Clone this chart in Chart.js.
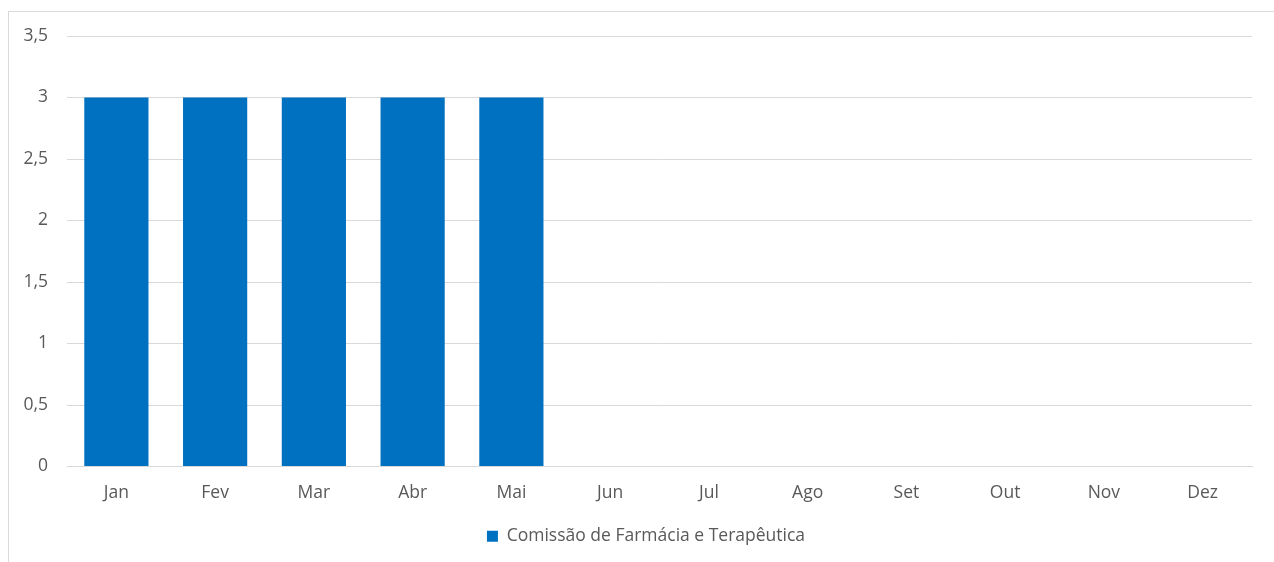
<!DOCTYPE html>
<html>
<head>
<meta charset="utf-8">
<script src="https://cdn.jsdelivr.net/npm/chart.js@4/dist/chart.umd.min.js"></script>
<style>
  html, body { margin: 0; padding: 0; background: #fff; overflow: hidden; }
  #frame { position: absolute; left: 8px; top: 11px; width: 1300px; height: 600px; border: 1px solid #d9d9d9; }
  #wrap { position: absolute; left: 0; top: 0; width: 1274px; height: 562px; }
</style>
</head>
<body>
<div id="frame"></div>
<div id="wrap"><canvas id="c"></canvas></div>
<script>
const months = ['Jan', 'Fev', 'Mar', 'Abr', 'Mai', 'Jun', 'Jul', 'Ago', 'Set', 'Out', 'Nov', 'Dez'];
const comissaoValues = [3, 3, 3, 3, 3, null, null, null, null, null, null, null];
const seriesLabel = 'Comissão de Farmácia e Terapêutica';

const font = { family: '"Open Sans", "Noto Sans", sans-serif', size: 17.5 };
const textColor = '#595959';

// nudge the legend right, the original centres it a bit off the canvas middle
const legendShift = {
  id: 'legendShift',
  afterLayout(chart) {
    chart.legend.left += 20;
    chart.legend.right += 20;
  }
};

new Chart(document.getElementById('c'), {
  type: 'bar',
  data: {
    labels: months,
    datasets: [{
      label: seriesLabel,
      data: comissaoValues,
      backgroundColor: '#0070c0',
      categoryPercentage: 1,
      barPercentage: 0.65
    }]
  },
  options: {
    responsive: true,
    maintainAspectRatio: false,
    animation: false,
    layout: { padding: { top: 36, right: 22, bottom: 7, left: 0 } },
    plugins: {
      tooltip: { enabled: false },
      legend: {
        position: 'bottom',
        labels: { font: font, color: textColor, boxWidth: 11, boxHeight: 11, padding: 7 }
      }
    },
    scales: {
      x: {
        grid: { display: false, drawTicks: false },
        border: { color: '#d9d9d9', width: 1 },
        ticks: { font: font, color: textColor, padding: 16, maxRotation: 0 },
        afterFit: (s) => { s.height = 54; }
      },
      y: {
        min: 0,
        max: 3.5,
        grid: { color: '#d9d9d9', drawTicks: false },
        border: { display: false },
        ticks: {
          stepSize: 0.5,
          font: font,
          color: textColor,
          padding: 19,
          callback: (v) => String(v).replace('.', ',')
        },
        afterFit: (s) => { s.width = 67; }
      }
    }
  },
  plugins: [legendShift]
});
</script>
</body>
</html>
